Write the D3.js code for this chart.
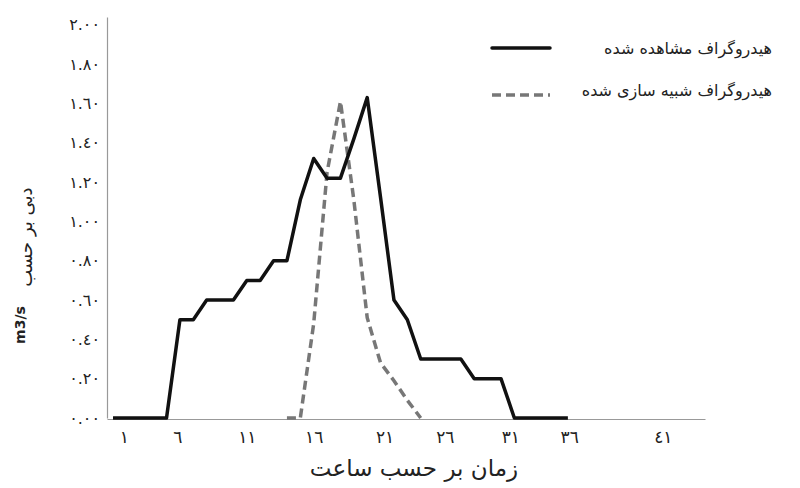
<!DOCTYPE html>
<html>
<head>
<meta charset="utf-8">
<script src="https://cdn.jsdelivr.net/npm/d3@7"></script>
<style>
  body { margin: 0; background: #fff; }
  svg { display: block; }
  .axis-text { font-family: "DejaVu Sans", sans-serif; fill: #222; }
</style>
</head>
<body>
<svg width="800" height="488"></svg>
<script>
const svg = d3.select("svg");

// hours (time steps) of the hydrographs
const hours = [1, 2, 3, 4, 5, 6, 7, 8, 9, 10, 11, 12, 13, 14, 15, 16, 17, 18,
    19, 20, 21, 22, 23, 24, 25, 26, 27, 28, 29, 30, 31, 32, 33, 34, 35];

// observed hydrograph (m3/s)
const observed = [0, 0, 0, 0, 0, 0.50, 0.50, 0.60, 0.60, 0.60, 0.70, 0.70, 0.80, 0.80,
    1.11, 1.32, 1.22, 1.22, 1.42, 1.63, 1.12, 0.60, 0.50, 0.30, 0.30, 0.30, 0.30,
    0.20, 0.20, 0.20, 0, 0, 0, 0, 0];

// simulated hydrograph (m3/s), null where not drawn
const simulated = [null, null, null, null, null, null, null, null, null, null, null, null, null,
    0, 0, 0.48, 1.25, 1.61, 1.11, 0.51, 0.28, 0.19, 0.09, 0,
    null, null, null, null, null, null, null, null, null, null, null];

// x tick labels and where they sit (in hours)
const xTickLabels = ["١", "٦", "١١", "١٦", "٢١", "٢٦", "٣١", "٣٦", "٤١"];
const xTickHours = [1.8, 5.8, 11, 16, 21.3, 25.8, 30.7, 35.1, 42.1];

const yTicks = [0, 0.2, 0.4, 0.6, 0.8, 1.0, 1.2, 1.4, 1.6, 1.8, 2.0];

const legendLabels = ["هیدروگراف مشاهده شده", "هیدروگراف شبیه سازی شده"];

const xScale = d3.scaleLinear()
    .domain([0.55, 45.25])
    .range([107, 705]);

const yScale = d3.scaleLinear()
    .domain([0, 2.04])
    .range([418, 17]);

// Arabic-Indic digits
const toArabic = s => s.replace(/[0-9]/g, c => "٠١٢٣٤٥٦٧٨٩"[+c]);

const xAxis = d3.axisBottom(xScale)
    .tickValues(xTickHours)
    .tickSize(0)
    .tickPadding(12)
    .tickFormat((d, i) => xTickLabels[i]);

const yAxis = d3.axisLeft(yScale)
    .tickValues(yTicks)
    .tickSize(0)
    .tickPadding(8)
    .tickFormat(d => toArabic(d3.format(".2f")(d)));

const gx = svg.append("g")
    .attr("transform", "translate(0, 419)")
    .call(xAxis);
gx.select(".domain").attr("stroke", "#999").attr("stroke-width", 1.2);
gx.selectAll("text")
    .attr("class", "axis-text")
    .style("font-size", "17px");

const gy = svg.append("g")
    .attr("transform", "translate(107, 0)")
    .call(yAxis);
gy.select(".domain").attr("stroke", "#999").attr("stroke-width", 1.2);
gy.selectAll("text")
    .attr("class", "axis-text")
    .attr("x", -7)
    .style("font-size", "16px");

const line = d3.line()
    .defined(d => d[1] != null)
    .x(d => xScale(d[0]))
    .y(d => yScale(d[1]));

svg.append("path")
    .datum(hours.map((h, i) => [h, simulated[i]]))
    .attr("fill", "none")
    .attr("stroke", "#777")
    .attr("stroke-width", 3.5)
    .attr("stroke-dasharray", "9,5")
    .attr("d", line);

svg.append("path")
    .datum(hours.map((h, i) => [h, observed[i]]))
    .attr("fill", "none")
    .attr("stroke", "#111")
    .attr("stroke-width", 3.5)
    .attr("stroke-linejoin", "round")
    .attr("d", line);

// legend
const legend = svg.append("g");
legend.append("line")
    .attr("x1", 492).attr("x2", 550)
    .attr("y1", 48).attr("y2", 48)
    .attr("stroke", "#111")
    .attr("stroke-width", 3.5)
    .attr("stroke-linecap", "round");
legend.append("line")
    .attr("x1", 492).attr("x2", 550)
    .attr("y1", 95).attr("y2", 95)
    .attr("stroke", "#777")
    .attr("stroke-width", 3.5)
    .attr("stroke-dasharray", "9,5");
legendLabels.forEach((t, i) => {
    legend.append("text")
        .attr("class", "axis-text")
        .attr("x", 772)
        .attr("y", i === 0 ? 54 : 96)
        .attr("text-anchor", "end")
        .style("font-size", "16px")
        .text(t);
});

// axis titles
svg.append("text")
    .attr("class", "axis-text")
    .attr("x", 414)
    .attr("y", 476)
    .attr("text-anchor", "middle")
    .style("font-size", "23px")
    .text("زمان بر حسب ساعت");

svg.append("text")
    .attr("class", "axis-text")
    .attr("transform", "translate(32, 237) rotate(-90)")
    .attr("text-anchor", "middle")
    .style("font-size", "18px")
    .text("دبی بر حسب");

svg.append("text")
    .attr("transform", "translate(25, 325) rotate(-90)")
    .attr("text-anchor", "middle")
    .style("font-family", "'DejaVu Sans', sans-serif")
    .style("font-weight", "bold")
    .style("font-size", "14px")
    .attr("fill", "#222")
    .text("m3/s");
</script>
</body>
</html>
